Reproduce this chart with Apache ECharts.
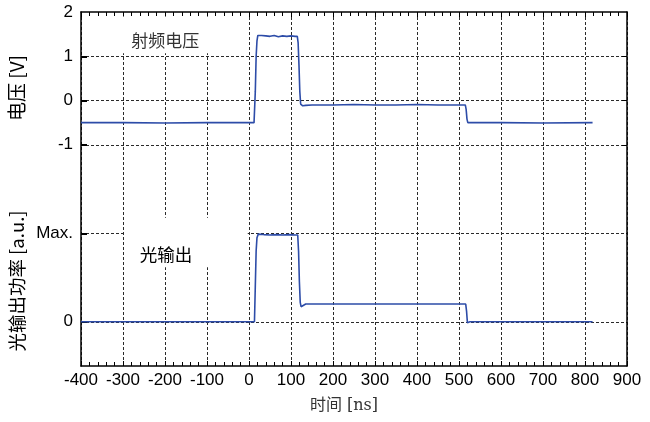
<!DOCTYPE html>
<html>
<head>
<meta charset="utf-8">
<script src="https://cdn.jsdelivr.net/npm/echarts@6/dist/echarts.min.js"></script>
<style>html,body{margin:0;padding:0;background:#fff}#c{width:650px;height:422px}</style>
</head>
<body>
<div id="c"></div>
<script>
// time axis ticks (ns)
const xTicks = [-400,-300,-200,-100,0,100,200,300,400,500,600,700,800,900];
// RF voltage [V]
const voltTime = [-400,-300,-200,-100,0,12,15,17,19,21,24,30,40,50,60,70,80,90,100,110,115,117,119,121,123,125,128,135,150,200,250,300,350,400,450,500,515,517,519,521,523,600,700,818];
const voltValue = [-0.5,-0.5,-0.51,-0.5,-0.5,-0.5,0.2,1.0,1.35,1.47,1.5,1.47,1.46,1.45,1.47,1.44,1.46,1.45,1.46,1.45,1.45,1.3,0.8,0.2,-0.08,-0.12,-0.12,-0.11,-0.1,-0.1,-0.09,-0.1,-0.1,-0.09,-0.1,-0.1,-0.1,-0.2,-0.42,-0.5,-0.5,-0.5,-0.51,-0.5];
// optical output power [a.u.] (0 .. Max = 1)
const lightTime = [-400,-300,-200,-100,0,13,15,17,19,22,25,35,50,65,80,95,110,116,118,120,122,124,127,135,150,200,300,400,500,516,518,520,522,526,600,700,818];
const lightValue = [0,0,0,0,0,0,0.4,0.8,0.95,0.99,0.99,0.985,0.98,0.985,0.98,0.985,0.98,0.98,0.8,0.45,0.22,0.17,0.18,0.2,0.2,0.2,0.2,0.2,0.2,0.2,0.12,-0.01,0,0,0,0,0];
// left-axis tick labels
const voltTicks = [2,1,0,-1];
const voltGrid = [1,0,-1];
const lightTicks = [0,1];
const lightTickLabels = {0:'0',1:'Max.'};

const LINE = '#2d4ca8';
const FONT = '"Liberation Sans", Arial, sans-serif';
const CJK = '"Noto Sans CJK SC", sans-serif';
const gridDash = {color:'#2a2a2a', width:1, type:[3,2]};
const frame = {show:true, onZero:false, lineStyle:{color:'#000', width:1.5}};

const chart = echarts.init(document.getElementById('c'), null, {renderer:'canvas'});
chart.setOption({
  animation:false,
  backgroundColor:'#fff',
  grid:{left:81, right:23, top:12, bottom:56, containLabel:false, show:false},
  xAxis:[{
    type:'value', min:xTicks[0], max:xTicks[xTicks.length-1], interval:100, position:'bottom',
    axisLine:frame,
    axisTick:{show:true, inside:true, length:5, lineStyle:{color:'#000', width:1}},
    minorTick:{show:true, splitNumber:5, length:4, lineStyle:{color:'#000', width:1}},
    axisLabel:{fontSize:17, color:'#000', fontFamily:FONT, margin:6},
    splitLine:{show:true, lineStyle:gridDash},
    name:'时间 [ns]', nameLocation:'middle', nameGap:32,
    nameTextStyle:{fontSize:16, color:'#333', fontFamily:'"DejaVu Serif", "Noto Sans CJK SC", serif', padding:[0,20,0,0]}
  },{
    type:'value', min:xTicks[0], max:xTicks[xTicks.length-1], interval:100, position:'top',
    axisLine:frame,
    axisTick:{show:true, inside:true, length:5, lineStyle:{color:'#000', width:1}},
    minorTick:{show:true, splitNumber:5, length:4, lineStyle:{color:'#000', width:1}},
    axisLabel:{show:false}, splitLine:{show:false}
  }],
  yAxis:[{
    type:'value', min:-6, max:2, interval:1, position:'left',
    axisLine:frame,
    axisTick:{show:true, inside:true, length:6, lineStyle:{color:'#000', width:2}, customValues:voltGrid},
    axisLabel:{fontSize:17, color:'#000', fontFamily:FONT, margin:8, customValues:voltTicks},
    splitLine:{show:true, lineStyle:gridDash}
  },{
    type:'value', min:-0.5, max:3.5, interval:0.5, position:'left',
    axisLine:{show:false, onZero:false},
    axisTick:{show:true, inside:true, length:6, lineStyle:{color:'#000', width:2}, customValues:lightTicks},
    axisLabel:{fontSize:17, color:'#000', fontFamily:FONT, margin:8, customValues:lightTicks,
      formatter:function(v){return lightTickLabels[v] !== undefined ? lightTickLabels[v] : '';}},
    splitLine:{show:true, lineStyle:gridDash}
  },{
    type:'value', min:-6, max:2, interval:1, position:'right',
    axisLine:frame,
    axisTick:{show:true, inside:true, length:5, lineStyle:{color:'#000', width:1}, customValues:voltGrid},
    axisLabel:{show:false}, splitLine:{show:false}
  }],
  graphic:[
    {type:'text', x:17, y:88, rotation:Math.PI/2,
     style:{text:'电压 [V]', font:'19px "Noto Sans CJK SC", "Liberation Sans", sans-serif', fill:'#000', align:'center', verticalAlign:'middle'}},
    {type:'text', x:17, y:281, rotation:Math.PI/2,
     style:{text:'光输出功率 [a.u.]', font:'18.5px "Noto Sans CJK SC", "Liberation Sans", sans-serif', fill:'#000', align:'center', verticalAlign:'middle'}}
  ],
  series:[{
    name:'射频电压', type:'line', xAxisIndex:0, yAxisIndex:0, showSymbol:false, symbol:'none',
    data: voltTime.map((t,i)=>[t, voltValue[i]]),
    lineStyle:{color:LINE, width:1.6}, itemStyle:{color:LINE}, z:3,
    markArea:{silent:true, z:1, itemStyle:{color:'#fff'},
      label:{show:true, position:'inside', offset:[0,6], fontSize:17, color:'#333', fontFamily:CJK},
      data:[[{name:'射频电压', xAxis:-396, yAxis:1.9},{xAxis:-3, yAxis:1.07}]]}
  },{
    name:'光输出', type:'line', xAxisIndex:0, yAxisIndex:1, showSymbol:false, symbol:'none',
    data: lightTime.map((t,i)=>[t, lightValue[i]]),
    lineStyle:{color:LINE, width:1.6}, itemStyle:{color:LINE}, z:3,
    markArea:{silent:true, z:1, itemStyle:{color:'#fff'},
      label:{show:true, position:'inside', offset:[-20,12], fontSize:17.5, color:'#000', fontFamily:CJK},
      data:[[{name:'光输出', xAxis:-297, yAxis:1.175},{xAxis:-3, yAxis:0.615}]]}
  }]
});
</script>
</body>
</html>
